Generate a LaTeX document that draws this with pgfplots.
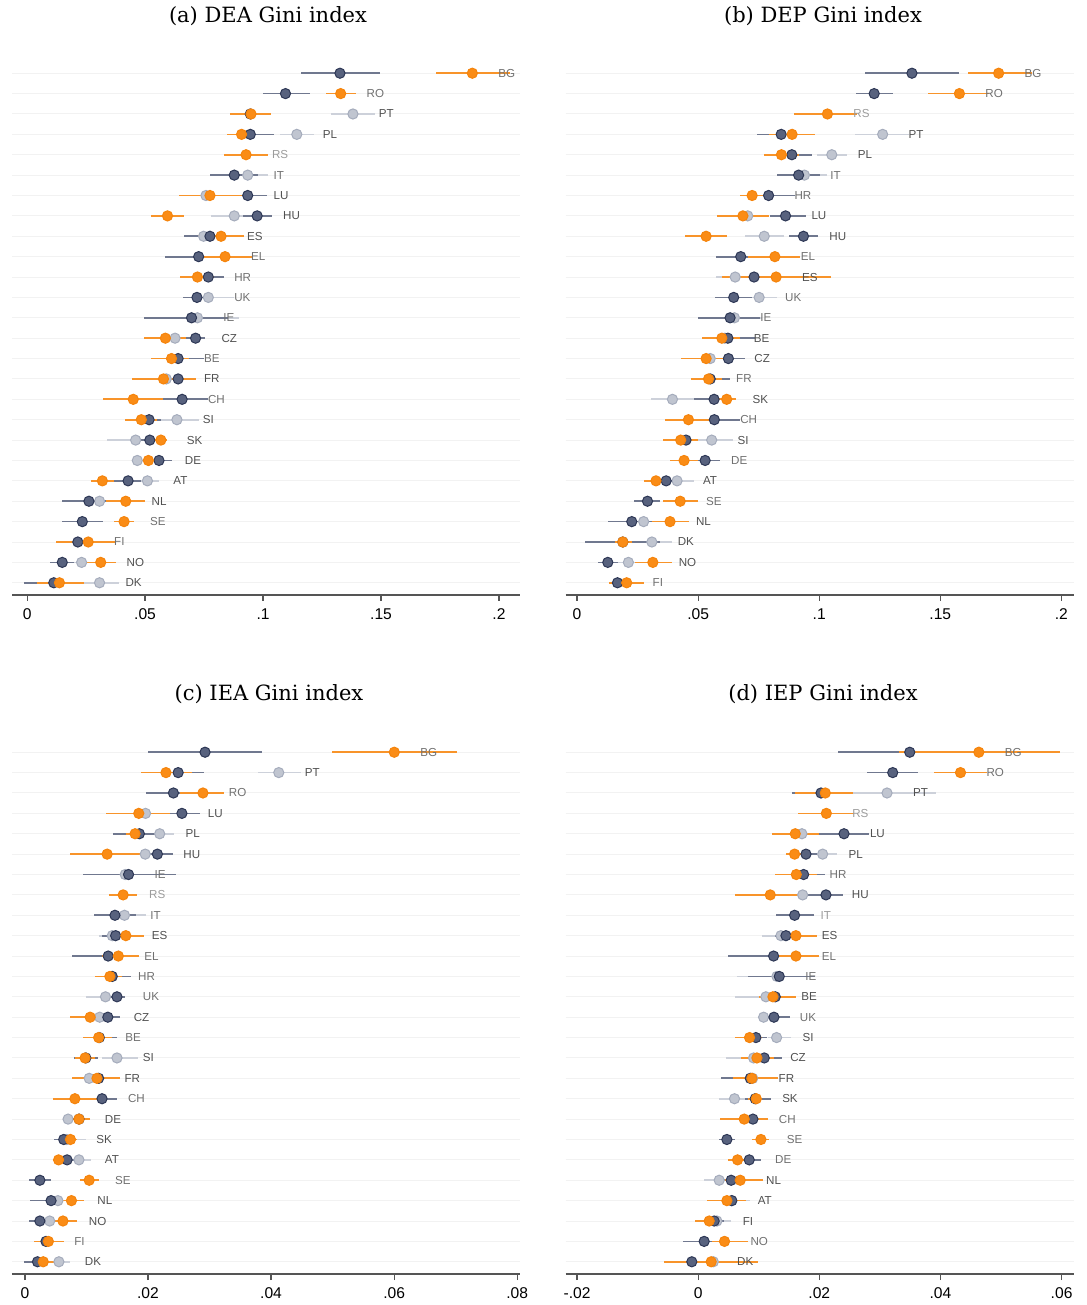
\documentclass[border=0pt]{standalone}
\usepackage{fontspec}
\setmainfont{Liberation Sans}
\newfontfamily\titlefont{DejaVu Serif}
\usepackage{pgfplots}
\usepackage{pgfplotstable}
\pgfplotsset{compat=1.18}

\definecolor{navyF}{RGB}{88,98,126}
\definecolor{navyD}{RGB}{45,55,85}
\definecolor{navyL}{RGB}{112,120,143}
\definecolor{greyF}{RGB}{192,197,208}
\definecolor{greyD}{RGB}{165,172,188}
\definecolor{greyL}{RGB}{205,209,218}
\definecolor{orF}{RGB}{250,140,22}
\definecolor{orD}{RGB}{245,132,12}
\definecolor{orL}{RGB}{248,148,42}
\definecolor{labA}{RGB}{155,155,155}
\definecolor{labB}{RGB}{112,112,112}
\definecolor{labC}{RGB}{80,80,80}
\definecolor{axc}{RGB}{85,85,85}

\newcommand{\labfont}{\fontsize{5.8}{6.5}\selectfont}
\newcommand{\lab}[4]{\node[anchor=west,inner sep=0pt,xshift=12.8pt,font=\labfont,text=#4] at (axis cs:#2,#1) {#3};}

\pgfplotsset{
  gini/.style={
    scale only axis, width=254pt, height=267pt,
    anchor=south west,
    ymin=0.4, ymax=26.6, y dir=reverse,
    axis x line*=bottom, axis y line*=left,
    y axis line style={draw=none},
    x axis line style={color=axc, line width=0.6pt},
    ytick={1,...,26}, yticklabels={}, ytick style={draw=none},
    ymajorgrids, grid style={color=black!5, line width=0.5pt},
    tick align=outside, major tick length=3pt,
    xtick style={color=axc, line width=0.6pt},
    scaled x ticks=false, scaled y ticks=false,
    xticklabel style={font=\fontsize{7.8}{9}\selectfont, text=black, inner sep=0.5pt, yshift=-3.2pt},
    clip=false,
  },
  ser/.style n args={3}{only marks, mark=*, mark size=2.55pt,
    mark options={fill=#1, draw=#2, line width=0.5pt},
    error bars/.cd, x dir=both, x explicit, error mark=none,
    error bar style={line width=0.85pt, color=#3}},
  /pgfplots/table/ciopt/.style={x=x, y=r, x error plus expr=\thisrow{hi}-\thisrow{x}, x error minus expr=\thisrow{x}-\thisrow{lo}},
}

% ---------------- Panel (a) ----------------
\pgfplotstableread{
r x lo hi
1 0.1326 0.1159 0.1494
2 0.1095 0.0999 0.1197
3 0.0946 0.0864 0.1027
4 0.0946 0.0850 0.1045
6 0.0878 0.0775 0.0980
7 0.0935 0.0860 0.1017
8 0.0975 0.0914 0.1037
9 0.0775 0.0666 0.0885
10 0.0727 0.0585 0.0865
11 0.0768 0.0700 0.0833
12 0.0720 0.0659 0.0780
13 0.0697 0.0496 0.0850
14 0.0714 0.0673 0.0754
15 0.0640 0.0580 0.0751
16 0.0640 0.0595 0.0694
17 0.0657 0.0578 0.0768
18 0.0517 0.0475 0.0567
19 0.0520 0.0467 0.0567
20 0.0559 0.0510 0.0616
21 0.0428 0.0368 0.0482
22 0.0262 0.0146 0.0375
23 0.0234 0.0146 0.0323
24 0.0215 0.0163 0.0262
25 0.0149 0.0096 0.0198
26 0.0113 -0.0014 0.0227
}\aN
\pgfplotstableread{
r x lo hi
3 0.1381 0.1286 0.1473
4 0.1143 0.1072 0.1218
6 0.0935 0.0880 0.1023
7 0.0758 0.0660 0.0860
8 0.0878 0.0779 0.0963
9 0.0748 0.0680 0.0820
12 0.0768 0.0708 0.0878
13 0.0722 0.0600 0.0899
14 0.0627 0.0580 0.0680
16 0.0590 0.0530 0.0650
18 0.0635 0.0567 0.0729
19 0.0460 0.0340 0.0517
20 0.0467 0.0446 0.0496
21 0.0510 0.0467 0.0559
22 0.0307 0.0255 0.0354
25 0.0231 0.0191 0.0276
26 0.0307 0.0241 0.0390
}\aG
\pgfplotstableread{
r x lo hi
1 0.1887 0.1735 0.2047
2 0.1329 0.1265 0.1395
3 0.0949 0.0860 0.1034
4 0.0909 0.0847 0.0970
5 0.0928 0.0836 0.1023
7 0.0775 0.0644 0.0914
8 0.0595 0.0524 0.0666
9 0.0822 0.0725 0.0920
10 0.0839 0.0730 0.0952
11 0.0722 0.0649 0.0793
14 0.0586 0.0496 0.0673
15 0.0612 0.0527 0.0687
16 0.0578 0.0446 0.0715
17 0.0450 0.0323 0.0578
18 0.0484 0.0414 0.0552
19 0.0567 0.0538 0.0592
20 0.0514 0.0467 0.0567
21 0.0319 0.0272 0.0368
22 0.0418 0.0333 0.0499
23 0.0411 0.0368 0.0453
24 0.0259 0.0123 0.0375
25 0.0312 0.0248 0.0375
26 0.0137 0.0042 0.0241
}\aO

% ---------------- Panel (b) ----------------
\pgfplotstableread{
r x lo hi
1 0.1383 0.1188 0.1576
2 0.1227 0.1152 0.1303
4 0.0843 0.0745 0.0935
5 0.0887 0.0804 0.0970
6 0.0915 0.0825 0.1004
7 0.0791 0.0730 0.0901
8 0.0861 0.0797 0.0945
9 0.0935 0.0876 0.0997
10 0.0676 0.0573 0.0777
11 0.0731 0.0653 0.0818
12 0.0647 0.0570 0.0722
13 0.0632 0.0501 0.0756
14 0.0623 0.0556 0.0736
15 0.0625 0.0556 0.0694
16 0.0550 0.0501 0.0632
17 0.0566 0.0481 0.0639
18 0.0567 0.0488 0.0674
19 0.0450 0.0405 0.0501
20 0.0529 0.0474 0.0591
21 0.0368 0.0322 0.0412
22 0.0291 0.0236 0.0343
23 0.0226 0.0127 0.0322
24 0.0189 0.0033 0.0343
25 0.0127 0.0088 0.0171
26 0.0167 0.0134 0.0198
}\bN
\pgfplotstableread{
r x lo hi
4 0.1262 0.1149 0.1369
5 0.1052 0.0990 0.1114
6 0.0939 0.0870 0.1032
8 0.0705 0.0620 0.0790
9 0.0773 0.0694 0.0853
11 0.0653 0.0573 0.0736
12 0.0752 0.0680 0.0825
13 0.0650 0.0556 0.0763
14 0.0610 0.0550 0.0670
15 0.0550 0.0480 0.0620
17 0.0394 0.0304 0.0481
19 0.0556 0.0501 0.0646
21 0.0413 0.0371 0.0485
23 0.0275 0.0226 0.0322
24 0.0309 0.0226 0.0391
25 0.0212 0.0171 0.0240
}\bG
\pgfplotstableread{
r x lo hi
1 0.1741 0.1613 0.1879
2 0.1579 0.1448 0.1700
3 0.1034 0.0895 0.1156
4 0.0888 0.0791 0.0981
5 0.0844 0.0773 0.0915
7 0.0723 0.0671 0.0777
8 0.0685 0.0577 0.0791
9 0.0533 0.0446 0.0618
10 0.0817 0.0708 0.0921
11 0.0822 0.0598 0.1050
14 0.0598 0.0515 0.0671
15 0.0533 0.0430 0.0639
16 0.0543 0.0471 0.0598
17 0.0618 0.0584 0.0657
18 0.0460 0.0364 0.0570
19 0.0428 0.0357 0.0501
20 0.0442 0.0382 0.0501
21 0.0326 0.0278 0.0371
22 0.0426 0.0353 0.0499
23 0.0384 0.0309 0.0464
24 0.0189 0.0157 0.0226
25 0.0313 0.0240 0.0394
26 0.0205 0.0134 0.0278
}\bO

% ---------------- Panel (c) ----------------
\pgfplotstableread{
r x lo hi
1 0.02927 0.0200 0.0386
2 0.0249 0.0208 0.0291
3 0.02413 0.0197 0.0280
4 0.02551 0.0225 0.0284
5 0.0186 0.0143 0.0225
6 0.02153 0.0192 0.0241
7 0.01684 0.0094 0.0245
9 0.01463 0.0112 0.0181
10 0.01474 0.0125 0.0170
11 0.01353 0.0076 0.0181
12 0.01419 0.0125 0.0173
13 0.01496 0.0136 0.0162
14 0.01347 0.0120 0.0154
15 0.01209 0.0103 0.0150
16 0.0099 0.0080 0.0118
17 0.01198 0.0098 0.0142
18 0.01253 0.0103 0.0149
19 0.0088 0.0072 0.0106
20 0.0063 0.0047 0.0081
21 0.00685 0.0054 0.0084
22 0.00243 0.0007 0.0043
23 0.00425 0.0008 0.0070
24 0.00243 0.0007 0.0043
25 0.00342 0.0015 0.0048
26 0.00204 -0.0002 0.0043
}\cN
\pgfplotstableread{
r x lo hi
2 0.04125 0.0378 0.0448
4 0.0196 0.0150 0.0240
5 0.0219 0.0197 0.0243
6 0.01955 0.0164 0.0225
7 0.0163 0.0120 0.0208
9 0.01618 0.0136 0.0197
10 0.01419 0.0120 0.0158
13 0.01309 0.0099 0.0147
14 0.01215 0.0103 0.0142
16 0.01496 0.0125 0.0183
17 0.01044 0.0087 0.0125
19 0.00701 0.0062 0.0078
20 0.0068 0.0052 0.0100
21 0.00878 0.0070 0.0108
23 0.00536 0.0037 0.0070
24 0.00403 0.0026 0.0056
26 0.00552 0.0037 0.0074
}\cG
\pgfplotstableread{
r x lo hi
1 0.06002 0.0499 0.0702
2 0.02292 0.0189 0.0272
3 0.02893 0.0252 0.0324
4 0.0185 0.0132 0.0236
5 0.0179 0.0164 0.0194
6 0.01336 0.0073 0.0192
8 0.01596 0.0136 0.0182
10 0.0164 0.0142 0.0193
11 0.01518 0.0125 0.0186
12 0.0138 0.0114 0.0158
14 0.0106 0.0074 0.0136
15 0.01198 0.0095 0.0142
16 0.00977 0.0082 0.0114
17 0.01171 0.0077 0.0154
18 0.00812 0.0045 0.0120
19 0.00878 0.0070 0.0106
20 0.0074 0.0059 0.0084
21 0.00547 0.0045 0.0065
22 0.01044 0.0089 0.0120
23 0.00756 0.0056 0.0096
24 0.00618 0.0043 0.0084
25 0.00381 0.0015 0.0063
26 0.00298 0.0015 0.0048
}\cO

% ---------------- Panel (d) ----------------
\pgfplotstableread{
r x lo hi
1 0.03493 0.0231 0.0463
2 0.03212 0.0278 0.0363
3 0.02028 0.0155 0.0248
5 0.02408 0.0199 0.0282
6 0.0178 0.0160 0.0196
7 0.01741 0.0149 0.0209
8 0.0211 0.0182 0.0239
9 0.01592 0.0129 0.0192
10 0.01449 0.0127 0.0177
11 0.01245 0.0050 0.0182
12 0.01339 0.0083 0.0193
13 0.01273 0.0105 0.0152
14 0.01251 0.0111 0.0151
15 0.00953 0.0083 0.0113
16 0.01091 0.0094 0.0138
17 0.0086 0.0038 0.0111
18 0.00942 0.0078 0.0121
19 0.00904 0.0072 0.0115
20 0.00474 0.0035 0.0060
21 0.00843 0.0069 0.0104
22 0.00545 0.0034 0.0075
23 0.00556 0.0039 0.0072
24 0.00264 0.0012 0.0042
25 0.00099 -0.0025 0.0045
26 -0.00105 -0.0055 0.0034
}\dN
\pgfplotstableread{
r x lo hi
3 0.03118 0.0254 0.0393
5 0.01713 0.0135 0.0210
6 0.02055 0.0188 0.0229
8 0.01725 0.0138 0.0204
10 0.01366 0.0105 0.0160
12 0.0130 0.0064 0.0182
13 0.01118 0.0061 0.0149
14 0.0108 0.0100 0.0119
15 0.01295 0.0116 0.0153
16 0.00915 0.0046 0.0116
17 0.0090 0.0070 0.0110
18 0.0060 0.0035 0.0083
22 0.00347 0.0010 0.0056
23 0.0055 0.0040 0.0086
24 0.00309 0.0014 0.0054
26 0.0025 0.0000 0.0050
}\dG
\pgfplotstableread{
r x lo hi
1 0.04634 0.0331 0.0598
2 0.04331 0.0389 0.0477
3 0.02099 0.0160 0.0256
4 0.02116 0.0164 0.0257
5 0.01603 0.0122 0.0199
6 0.01592 0.0145 0.0174
7 0.0162 0.0127 0.0196
8 0.0119 0.0061 0.0174
10 0.01614 0.0138 0.0197
11 0.01614 0.0133 0.0199
13 0.01234 0.0100 0.0161
15 0.00848 0.0060 0.0105
16 0.0097 0.0071 0.0126
17 0.00887 0.0058 0.0132
18 0.00959 0.0083 0.0105
19 0.0076 0.0036 0.0116
20 0.01036 0.0089 0.0117
21 0.0065 0.0050 0.0080
22 0.00694 0.0045 0.0107
23 0.00474 0.0014 0.0079
24 0.00182 -0.0006 0.0039
25 0.00435 0.0023 0.0082
26 0.00215 -0.0056 0.0099
}\dO

\begin{document}
\begin{tikzpicture}
\path[use as bounding box] (0,0) rectangle (543pt,652.5pt);

% titles
\node[font=\titlefont\fontsize{10.5}{12}\selectfont] at (134pt,644.5pt) {(a) DEA Gini index};
\node[font=\titlefont\fontsize{10.5}{12}\selectfont] at (411.5pt,644.5pt) {(b) DEP Gini index};
\node[font=\titlefont\fontsize{10.5}{12}\selectfont] at (134.5pt,305.5pt) {(c) IEA Gini index};
\node[font=\titlefont\fontsize{10.5}{12}\selectfont] at (411.5pt,305.5pt) {(d) IEP Gini index};

% (a)
\begin{axis}[gini, at={(6pt,355pt)}, xmin=-0.0064, xmax=0.2089,
  xtick={0,0.05,0.1,0.15,0.2}, xticklabels={0,.05,.1,.15,.2}]
\addplot[ser={greyF}{greyD}{greyL}] table[ciopt] {\aG};
\addplot[ser={navyF}{navyD}{navyL}] table[ciopt] {\aN};
\addplot[ser={orF}{orD}{orL}] table[ciopt] {\aO};
\lab{1}{0.1887}{BG}{labB}
\lab{2}{0.1329}{RO}{labB}
\lab{3}{0.1381}{PT}{labC}
\lab{4}{0.1143}{PL}{labC}
\lab{5}{0.0928}{RS}{labA}
\lab{6}{0.0935}{IT}{labB}
\lab{7}{0.0935}{LU}{labC}
\lab{8}{0.0975}{HU}{labC}
\lab{9}{0.0822}{ES}{labC}
\lab{10}{0.0839}{EL}{labB}
\lab{11}{0.0768}{HR}{labB}
\lab{12}{0.0768}{UK}{labB}
\lab{13}{0.0722}{IE}{labB}
\lab{14}{0.0714}{CZ}{labC}
\lab{15}{0.0640}{BE}{labB}
\lab{16}{0.0640}{FR}{labC}
\lab{17}{0.0657}{CH}{labB}
\lab{18}{0.0635}{SI}{labC}
\lab{19}{0.0567}{SK}{labC}
\lab{20}{0.0559}{DE}{labC}
\lab{21}{0.0510}{AT}{labC}
\lab{22}{0.0418}{NL}{labC}
\lab{23}{0.0411}{SE}{labB}
\lab{24}{0.0259}{FI}{labB}
\lab{25}{0.0312}{NO}{labC}
\lab{26}{0.0307}{DK}{labC}
\end{axis}

% (b)
\begin{axis}[gini, at={(282.85pt,355pt)}, xmin=-0.00468, xmax=0.2051,
  xtick={0,0.05,0.1,0.15,0.2}, xticklabels={0,.05,.1,.15,.2}]
\addplot[ser={greyF}{greyD}{greyL}] table[ciopt] {\bG};
\addplot[ser={navyF}{navyD}{navyL}] table[ciopt] {\bN};
\addplot[ser={orF}{orD}{orL}] table[ciopt] {\bO};
\lab{1}{0.1741}{BG}{labB}
\lab{2}{0.1579}{RO}{labB}
\lab{3}{0.1034}{RS}{labA}
\lab{4}{0.1262}{PT}{labC}
\lab{5}{0.1052}{PL}{labC}
\lab{6}{0.0939}{IT}{labB}
\lab{7}{0.0791}{HR}{labB}
\lab{8}{0.0861}{LU}{labC}
\lab{9}{0.0935}{HU}{labC}
\lab{10}{0.0817}{EL}{labB}
\lab{11}{0.0822}{ES}{labC}
\lab{12}{0.0752}{UK}{labB}
\lab{13}{0.0650}{IE}{labB}
\lab{14}{0.0623}{BE}{labC}
\lab{15}{0.0625}{CZ}{labC}
\lab{16}{0.0550}{FR}{labB}
\lab{17}{0.0618}{SK}{labC}
\lab{18}{0.0567}{CH}{labB}
\lab{19}{0.0556}{SI}{labC}
\lab{20}{0.0529}{DE}{labB}
\lab{21}{0.0413}{AT}{labC}
\lab{22}{0.0426}{SE}{labB}
\lab{23}{0.0384}{NL}{labC}
\lab{24}{0.0309}{DK}{labC}
\lab{25}{0.0313}{NO}{labC}
\lab{26}{0.0205}{FI}{labB}
\end{axis}

% (c)
\begin{axis}[gini, at={(6pt,15.5pt)}, xmin=-0.0021, xmax=0.08045,
  xtick={0,0.02,0.04,0.06,0.08}, xticklabels={0,.02,.04,.06,.08}]
\addplot[ser={greyF}{greyD}{greyL}] table[ciopt] {\cG};
\addplot[ser={navyF}{navyD}{navyL}] table[ciopt] {\cN};
\addplot[ser={orF}{orD}{orL}] table[ciopt] {\cO};
\lab{1}{0.06002}{BG}{labB}
\lab{2}{0.04125}{PT}{labC}
\lab{3}{0.02893}{RO}{labB}
\lab{4}{0.02551}{LU}{labC}
\lab{5}{0.0219}{PL}{labC}
\lab{6}{0.02153}{HU}{labC}
\lab{7}{0.01684}{IE}{labB}
\lab{8}{0.01596}{RS}{labA}
\lab{9}{0.01618}{IT}{labB}
\lab{10}{0.0164}{ES}{labC}
\lab{11}{0.01518}{EL}{labB}
\lab{12}{0.01419}{HR}{labB}
\lab{13}{0.01496}{UK}{labB}
\lab{14}{0.01347}{CZ}{labC}
\lab{15}{0.01209}{BE}{labB}
\lab{16}{0.01496}{SI}{labC}
\lab{17}{0.01198}{FR}{labC}
\lab{18}{0.01253}{CH}{labB}
\lab{19}{0.00878}{DE}{labC}
\lab{20}{0.0074}{SK}{labC}
\lab{21}{0.00878}{AT}{labC}
\lab{22}{0.01044}{SE}{labB}
\lab{23}{0.00756}{NL}{labC}
\lab{24}{0.00618}{NO}{labC}
\lab{25}{0.00381}{FI}{labB}
\lab{26}{0.00552}{DK}{labC}
\end{axis}

% (d)
\begin{axis}[gini, at={(282.85pt,15.5pt)}, xmin=-0.02187, xmax=0.0620,
  xtick={-0.02,0,0.02,0.04,0.06}, xticklabels={-.02,0,.02,.04,.06}]
\addplot[ser={greyF}{greyD}{greyL}] table[ciopt] {\dG};
\addplot[ser={navyF}{navyD}{navyL}] table[ciopt] {\dN};
\addplot[ser={orF}{orD}{orL}] table[ciopt] {\dO};
\lab{1}{0.04634}{BG}{labB}
\lab{2}{0.04331}{RO}{labB}
\lab{3}{0.03118}{PT}{labC}
\lab{4}{0.02116}{RS}{labA}
\lab{5}{0.02408}{LU}{labC}
\lab{6}{0.02055}{PL}{labC}
\lab{7}{0.01741}{HR}{labB}
\lab{8}{0.0211}{HU}{labC}
\lab{9}{0.01592}{IT}{labA}
\lab{10}{0.01614}{ES}{labC}
\lab{11}{0.01614}{EL}{labB}
\lab{12}{0.01339}{IE}{labB}
\lab{13}{0.01273}{BE}{labC}
\lab{14}{0.01251}{UK}{labB}
\lab{15}{0.01295}{SI}{labC}
\lab{16}{0.01091}{CZ}{labC}
\lab{17}{0.0090}{FR}{labC}
\lab{18}{0.00959}{SK}{labC}
\lab{19}{0.00904}{CH}{labB}
\lab{20}{0.01036}{SE}{labB}
\lab{21}{0.00843}{DE}{labB}
\lab{22}{0.00694}{NL}{labC}
\lab{23}{0.00556}{AT}{labC}
\lab{24}{0.00309}{FI}{labC}
\lab{25}{0.00435}{NO}{labB}
\lab{26}{0.00215}{DK}{labC}
\end{axis}
\end{tikzpicture}
\end{document}
